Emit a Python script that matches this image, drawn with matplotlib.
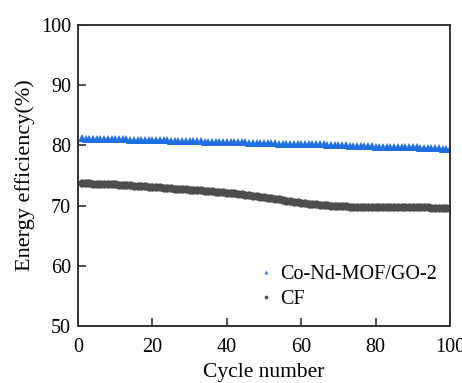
import numpy as np
import matplotlib
import matplotlib.pyplot as plt

plt.rcParams['font.family'] = ['Liberation Serif', 'DejaVu Serif']
plt.rcParams['mathtext.fontset'] = 'stix'

cycles = np.arange(1, 101)

mof_go = [81.15, 81.12, 81.10, 81.08, 81.06, 81.05, 81.04, 81.03, 81.02, 81.00,
          80.99, 80.98, 80.97, 80.96, 80.95, 80.94, 80.93, 80.92, 80.90, 80.88,
          80.86, 80.84, 80.82, 80.80, 80.78, 80.76, 80.74, 80.72, 80.70, 80.68,
          80.66, 80.65, 80.64, 80.63, 80.62, 80.61, 80.60, 80.59, 80.58, 80.57,
          80.56, 80.54, 80.52, 80.50, 80.48, 80.46, 80.44, 80.42, 80.40, 80.38,
          80.36, 80.34, 80.32, 80.30, 80.28, 80.26, 80.25, 80.24, 80.23, 80.22,
          80.21, 80.20, 80.19, 80.18, 80.16, 80.14, 80.12, 80.10, 80.08, 80.05,
          80.02, 79.99, 79.96, 79.93, 79.90, 79.87, 79.85, 79.83, 79.81, 79.80,
          79.79, 79.78, 79.77, 79.76, 79.75, 79.74, 79.72, 79.70, 79.68, 79.66,
          79.64, 79.62, 79.60, 79.57, 79.54, 79.51, 79.48, 79.45, 79.40, 79.35]

cf = [73.70, 73.68, 73.66, 73.64, 73.62, 73.60, 73.58, 73.55, 73.52, 73.50,
      73.46, 73.42, 73.38, 73.34, 73.30, 73.25, 73.20, 73.16, 73.12, 73.08,
      73.04, 73.00, 72.95, 72.90, 72.86, 72.82, 72.78, 72.74, 72.70, 72.65,
      72.60, 72.55, 72.50, 72.45, 72.40, 72.35, 72.30, 72.24, 72.18, 72.12,
      72.06, 72.00, 71.94, 71.87, 71.80, 71.72, 71.64, 71.55, 71.46, 71.37,
      71.28, 71.19, 71.10, 71.01, 70.92, 70.83, 70.74, 70.65, 70.56, 70.48,
      70.40, 70.32, 70.25, 70.18, 70.12, 70.06, 70.01, 69.97, 69.93, 69.90,
      69.87, 69.85, 69.83, 69.81, 69.80, 69.79, 69.78, 69.77, 69.76, 69.75,
      69.74, 69.74, 69.73, 69.73, 69.72, 69.72, 69.71, 69.71, 69.70, 69.70,
      69.69, 69.69, 69.68, 69.68, 69.67, 69.67, 69.66, 69.66, 69.65, 69.65]

fs = 14.5

fig = plt.figure(figsize=(4.62, 3.83), dpi=100)
ax = fig.add_axes([0.169, 0.149, 0.805, 0.786])

ax.plot(cycles, mof_go, linestyle='none', marker='^', markersize=6,
        color='#1f6fe0', markeredgewidth=0, label='Co-Nd-MOF/GO-2')
ax.plot(cycles, cf, linestyle='none', marker='o', markersize=6,
        color='#4d4d4d', markeredgewidth=0, label='CF')

ax.set_xlim(0, 100)
ax.set_ylim(50, 100)
ax.set_xticks([0, 20, 40, 60, 80, 100])
ax.set_yticks([50, 60, 70, 80, 90, 100])
ax.tick_params(direction='in', length=6, width=1.2, labelsize=fs,
               colors='#333333', labelcolor='black')
ax.tick_params(axis='x', pad=9)
ax.tick_params(axis='y', pad=5)
for s in ax.spines.values():
    s.set_linewidth(1.4)
    s.set_color('#333333')

ax.set_xlabel('Cycle number', fontsize=15.5, labelpad=4)
ax.set_ylabel('Energy efficiency(%)', fontsize=16, labelpad=4)

ax.legend(loc='lower right', bbox_to_anchor=(1.015, -0.005), frameon=False,
          fontsize=fs, markerscale=0.45, handletextpad=0.2, handlelength=1.0,
          labelspacing=0.3)

plt.savefig('out.png', dpi=100)
plt.close()
